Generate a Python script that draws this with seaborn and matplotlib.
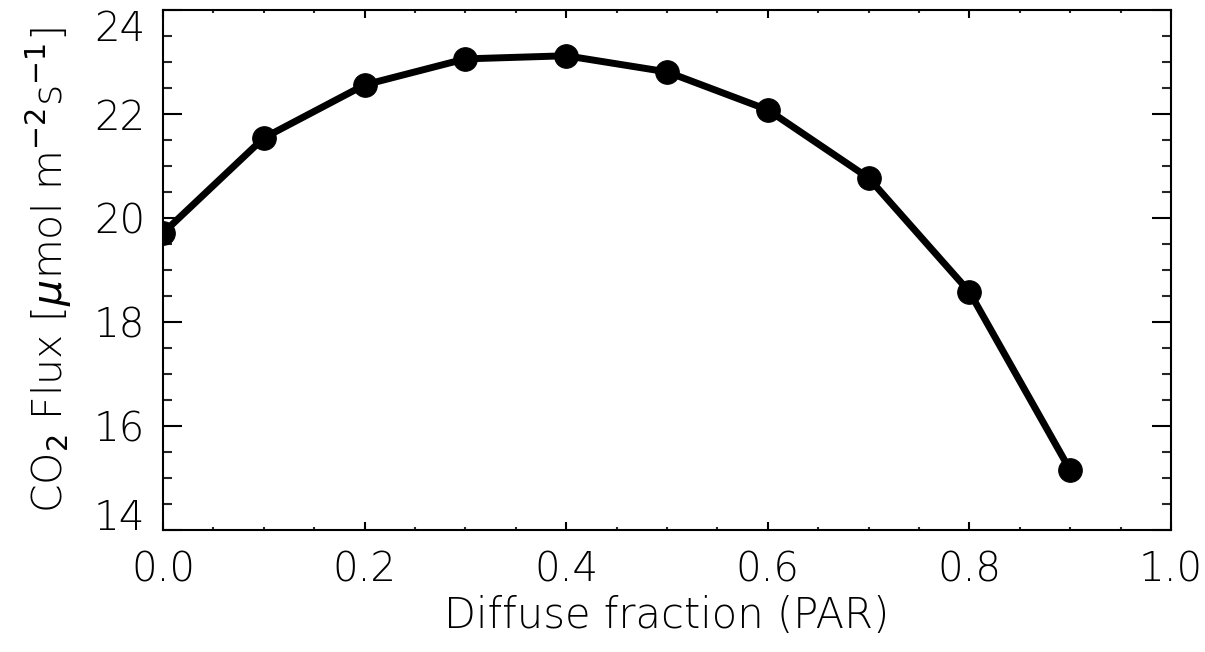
import matplotlib
matplotlib.use("Agg")
import matplotlib.pyplot as plt
import seaborn as sns
import pandas as pd
from matplotlib.ticker import MultipleLocator

diffuse_fraction = [0.0, 0.1, 0.2, 0.3, 0.4, 0.5, 0.6, 0.7, 0.8, 0.9]
co2_flux = [19.71, 21.54, 22.56, 23.06, 23.12, 22.81, 22.08, 20.77, 18.58, 15.15]
x_ticks = [0.0, 0.2, 0.4, 0.6, 0.8, 1.0]
y_ticks = [14, 16, 18, 20, 22, 24]

sns.set_style("ticks")
plt.rcParams['font.family'] = ['DejaVu Sans']

df = pd.DataFrame({"x": diffuse_fraction, "y": co2_flux})

fig = plt.figure(figsize=(12.05, 6.52), dpi=100)
ax = fig.add_axes([163/1205, 1-530/652, (1171-163)/1205, 520/652])

sns.lineplot(data=df, x="x", y="y", ax=ax, color="black", linewidth=5,
             marker="o", markersize=17, markeredgecolor="black",
             markerfacecolor="black", clip_on=True)

ax.set_xlim(0.0, 1.0)
ax.set_ylim(14, 24)
ax.set_xticks(x_ticks)
ax.set_xticklabels([f"{v:.1f}" for v in x_ticks])
ax.set_yticks(y_ticks)
ax.set_yticklabels([str(v) for v in y_ticks])
ax.xaxis.set_minor_locator(MultipleLocator(0.05))
ax.yaxis.set_minor_locator(MultipleLocator(0.5))

for s in ax.spines.values():
    s.set_linewidth(1.5)
    s.set_color("black")

ax.tick_params(axis="x", which="major", direction="in", length=6, width=1.5,
               top=True, bottom=True, labelsize=29, pad=15, colors="black")
ax.tick_params(axis="x", which="minor", direction="in", length=2.5, width=1.5,
               top=True, bottom=True)
ax.tick_params(axis="y", which="major", direction="in", length=14, width=1.5,
               left=True, right=True, labelsize=29, pad=13, colors="black")
ax.tick_params(axis="y", which="minor", direction="in", length=6.5, width=1.5,
               left=True, right=True)
for lab in ax.get_xticklabels() + ax.get_yticklabels():
    lab.set_fontweight("light")

ylabs = ax.get_yticklabels()
ylabs[0].set_verticalalignment("baseline")
ylabs[-1].set_verticalalignment("top")

ax.set_xlabel("Diffuse fraction (PAR)", fontsize=30, labelpad=4,
              fontweight="light", color="black")
ax.set_ylabel(r"CO$_2$ Flux [$\mu$mol m$^{-2}$s$^{-1}$]", fontsize=29.5,
              labelpad=14, fontweight="light", color="black")

fig.savefig("out.png", dpi=100, facecolor="white")
